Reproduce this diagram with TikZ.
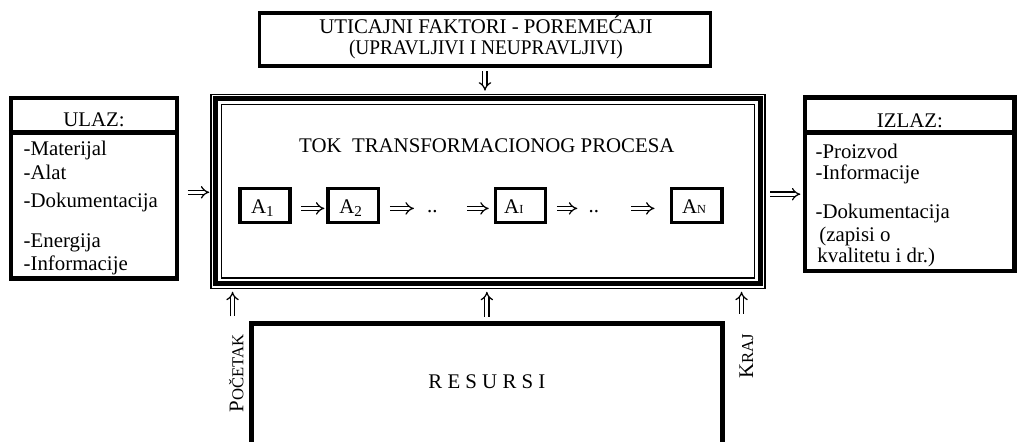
\documentclass[tikz,border=0pt]{standalone}
\usepackage{fontspec}
\setmainfont{Liberation Serif}
\usepackage{graphicx}
\usetikzlibrary{arrows.meta,calc}

\tikzset{
  txt/.style={font=\fontsize{22}{24}\selectfont, inner sep=0pt, outer sep=0pt},
  heavybox/.style={draw, line width=4.5pt, inner sep=0pt},
  abox/.style={draw, line width=4pt, minimum width=53pt, minimum height=36pt, inner sep=0pt},
  dbl/.style={double, double distance=3.2pt, line width=1.3pt, -{Implies}},
}
\newcommand{\smallsub}[1]{{\fontsize{13}{13}\selectfont #1}}
\newcommand{\numsub}[1]{\raisebox{-3pt}{\fontsize{16}{16}\selectfont #1}}

\begin{document}
\begin{tikzpicture}[x=1pt,y=-1pt]
\path[use as bounding box] (0,0) rectangle (1080,466.6);

% disturbances box
\node[draw, line width=4pt, minimum width=476pt, minimum height=56pt, inner sep=0pt] (top) at (512,42) {};
\node[txt, anchor=base] (top1) at (513,35) {UTICAJNI FAKTORI - POREMEĆAJI};
\node[txt, anchor=base] (top2) at (513,58) {\scalebox{0.93}[1]{(UPRAVLJIVI I NEUPRAVLJIVI)}};

% transformation process frame (thin - thick - thin)
\node[minimum width=586.3pt, minimum height=206.3pt, inner sep=0pt, outer sep=0pt] (main) at (515.15,201.85) {};
\draw[line width=1.3pt] ($(main.north west)+(0.7,0.7)$) rectangle ($(main.south east)-(0.7,0.7)$);
\draw[line width=5.5pt] ($(main.north west)+(5.3,5.3)$) rectangle ($(main.south east)-(5.3,5.3)$);
\draw[line width=1.7pt] ($(main.north west)+(11.8,11.8)$) rectangle ($(main.south east)-(11.8,11.8)$);
\node[txt, anchor=base] (tok) at (514,161.5) {TOK\ \ TRANSFORMACIONOG PROCESA};

% activities
\node[abox] (a1) at (279.5,217) {};
\node[abox] (a2) at (373,217) {};
\node[abox] (ai) at (549.5,217) {};
\node[abox] (an) at (735.5,217) {};
\node[txt, anchor=base west] (a1t) at (265,225.5) {A\numsub{1}};
\node[txt, anchor=base west] (a2t) at (358.3,225.5) {A\numsub{2}};
\node[txt, anchor=base west] (ait) at (532.3,225.5) {A\smallsub{I}};
\node[txt, anchor=base west] (ant) at (720,225.5) {A\smallsub{N}};
\node[txt, anchor=base] (d1) at (456.5,224) {..};
\node[txt, anchor=base] (d2) at (627,224) {..};

\draw[dbl, shorten <=10pt, shorten >=2pt] ([yshift=-3pt]a1.east) -- ([yshift=-3pt]a2.west);
\draw[dbl, shorten <=10pt, shorten >=14pt] ([yshift=-3pt]a2.east) -- ([yshift=-3pt]a2.east -| d1.west);
\draw[dbl, shorten <=31pt, shorten >=5pt] ([yshift=-3pt]ai.west -| d1.east) -- ([yshift=-3pt]ai.west);
\draw[dbl, shorten <=10pt, shorten >=12pt] ([yshift=-3pt]ai.east) -- ([yshift=-3pt]ai.east -| d2.west);
\draw[dbl, shorten <=34pt, shorten >=16pt] ([yshift=-3pt]an.west -| d2.east) -- ([yshift=-3pt]an.west);

% input
\node[heavybox, minimum width=175pt, minimum height=190.7pt] (ulaz) at (99.2,198.65) {};
\coordinate (usep) at (0,140);
\draw[line width=4.5pt] (ulaz.west |- usep) -- (ulaz.east |- usep);
\node[txt, anchor=base] (ulazh) at (99.2,134) {ULAZ:};
\node[txt, anchor=base west] (u1) at (25,164.5) {-Materijal};
\node[txt, anchor=base west] (u2) at (25,190) {-Alat};
\node[txt, anchor=base west] (u3) at (25,219.5) {-Dokumentacija};
\node[txt, anchor=base west] (u4) at (25,261) {-Energija};
\node[txt, anchor=base west] (u5) at (25,285.5) {-Informacije};

% output
\node[heavybox, minimum width=220.75pt, minimum height=183pt] (izlaz) at (960.6,194.5) {};
\coordinate (isep) at (0,140);
\draw[line width=4.5pt] (izlaz.west |- isep) -- (izlaz.east |- isep);
\node[txt, anchor=base] (izlazh) at (960.6,135) {IZLAZ:};
\node[txt, anchor=base west] (i1) at (861,167) {-Proizvod};
\node[txt, anchor=base west] (i2) at (861,190) {-Informacije};
\node[txt, anchor=base west] (i3) at (861,231) {-Dokumentacija};
\node[txt, anchor=base west] (i4) at (865,255) {(zapisi o};
\node[txt, anchor=base west] (i5) at (863,277) {kvalitetu i dr.)};

% resources
\node[minimum width=497pt, minimum height=125.1pt, inner sep=0pt, outer sep=0pt] (resbox) at (514,404.05) {};
\draw[line width=5pt] (resbox.south west) -- (resbox.north west) -- (resbox.north east) -- (resbox.south east);
\node[txt, anchor=base] (res) at (514,410) {R E S U R S I};
\node[txt, rotate=90, anchor=base] (poc) at (257,394) {P{\fontsize{17.6}{18}\selectfont OČETAK}};
\node[txt, rotate=90, anchor=base] (kraj) at (795,376) {K{\fontsize{17.6}{18}\selectfont RAJ}};

% flows into and out of the process
\draw[dbl, shorten <=9pt, shorten >=1pt] (ulaz.east |- 0,203) -- (main.west |- 0,203);
\draw[dbl, shorten <=5pt, shorten >=3pt] (main.east |- 0,205) -- (izlaz.west |- 0,205);
\draw[dbl, shorten <=3pt, shorten >=3pt] (top.south) -- (top.south |- main.north);
\draw[dbl, shorten <=7pt, shorten >=3pt] (resbox.north) -- (resbox.north |- main.south);
\draw[dbl, shorten <=19pt, shorten >=3pt] ([xshift=-4pt]poc.east) -- ([xshift=-4pt]poc.east |- main.south);
\draw[dbl, shorten <=21pt, shorten >=3pt] ([xshift=-5pt]kraj.east) -- ([xshift=-5pt]kraj.east |- main.south);
\end{tikzpicture}
\end{document}
